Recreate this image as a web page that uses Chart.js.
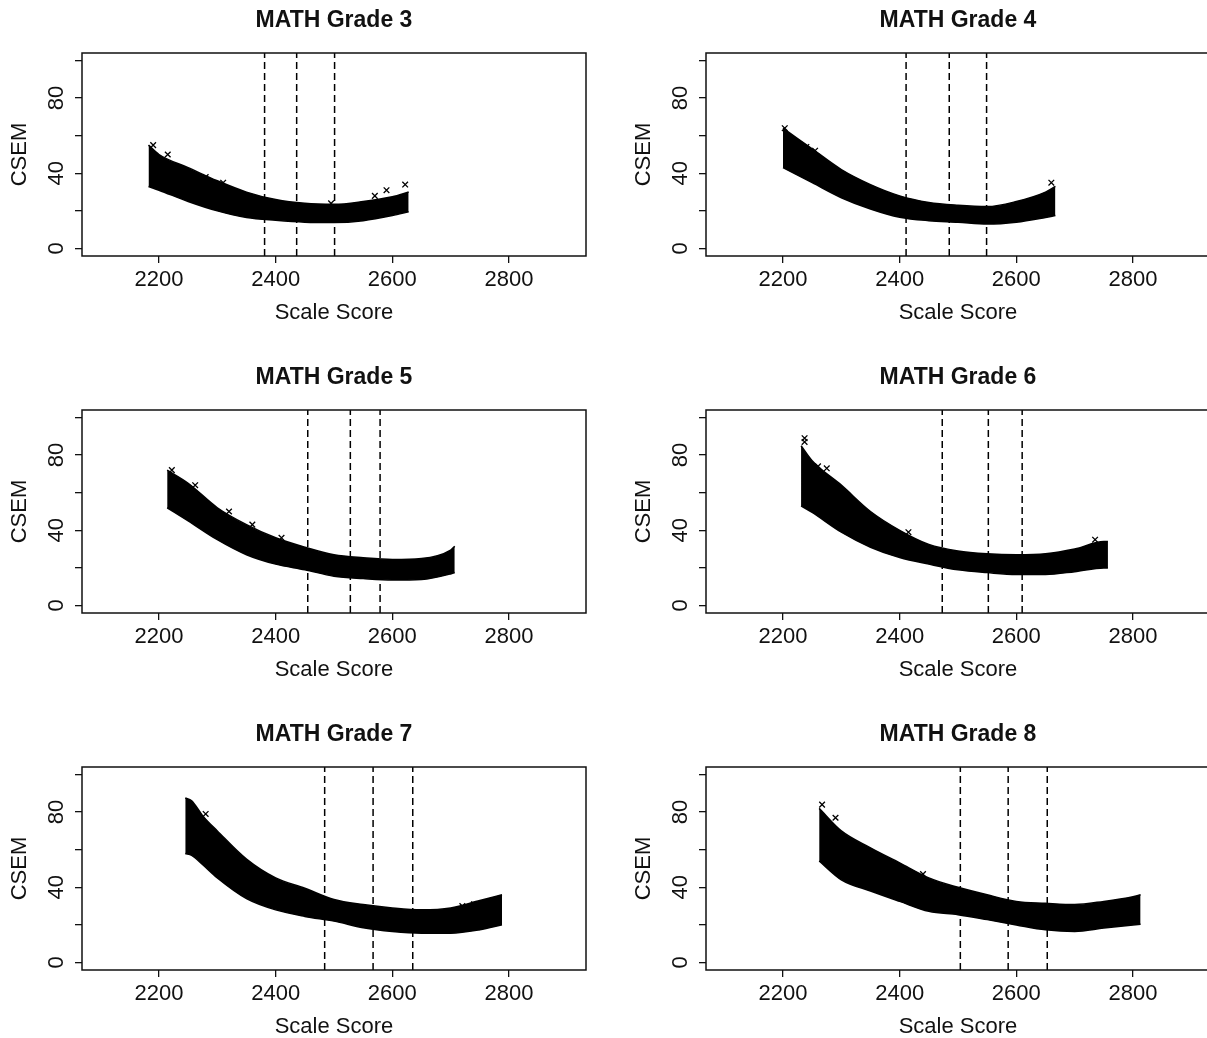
<!DOCTYPE html>
<html>
<head>
<meta charset="utf-8">
<script src="https://cdn.jsdelivr.net/npm/chart.js@4.4.0/dist/chart.umd.min.js"></script>
<style>
html,body{margin:0;padding:0;background:#fff;width:1207px;height:1038px;overflow:hidden;}
#wrap{position:relative;width:1207px;height:1038px;overflow:hidden;}
canvas{position:absolute;}
</style>
</head>
<body>
<div id="wrap"></div>
<script>
// ---------- data ----------
const xTicks = [2200, 2400, 2600, 2800];
const yTicks = [0, 20, 40, 60, 80, 100];
const yTickLabels = [0, 40, 80];
const X_MIN = 2068, X_MAX = 2932, Y_MIN = -4, Y_MAX = 104;

const panelTitles = ['MATH Grade 3','MATH Grade 4','MATH Grade 5','MATH Grade 6','MATH Grade 7','MATH Grade 8'];

// Band of CSEM values: upper and lower envelope of the point cloud
const g3Score = [2182, 2200, 2250, 2300, 2350, 2400, 2450, 2500, 2550, 2600, 2628];
const g3Upper = [55, 50, 43, 36, 30, 26, 24, 23.5, 25, 27.5, 30];
const g3Lower = [33, 31, 25, 20, 16.5, 15, 14, 13.8, 14.8, 17.5, 19.5];
const g3Cuts  = [2381, 2436, 2501];
const g3Outliers = [[2190,55],[2215,50],[2280,38],[2310,35],[2495,24],[2570,28],[2590,31],[2622,34]];

const g4Score = [2200, 2250, 2300, 2350, 2400, 2450, 2500, 2550, 2600, 2650, 2667];
const g4Upper = [64, 53, 42, 34, 28, 24.5, 23, 22.3, 25, 30, 33];
const g4Lower = [43, 35, 27, 21, 16.6, 14.8, 14, 13, 14, 16.5, 17.5];
const g4Cuts  = [2411, 2485, 2549];
const g4Outliers = [[2203,64],[2240,54],[2255,52],[2660,35]];

const g5Score = [2214, 2250, 2300, 2350, 2400, 2450, 2500, 2550, 2600, 2650, 2700, 2707];
const g5Upper = [72, 65, 52, 43, 36, 31, 27, 25.4, 24.5, 25, 29.5, 31.5];
const g5Lower = [52, 45, 35, 27, 22, 19, 15.6, 14.3, 13.5, 13.8, 16.8, 17.5];
const g5Cuts  = [2455, 2528, 2579];
const g5Outliers = [[2222,72],[2262,64],[2320,50],[2360,43],[2410,36]];

const g6Score = [2231, 2250, 2300, 2350, 2400, 2450, 2500, 2550, 2600, 2650, 2700, 2750, 2757];
const g6Upper = [85, 77, 64, 50, 40, 32.5, 29, 27.5, 27, 27.5, 30, 34, 34];
const g6Lower = [53, 49.5, 39, 31, 25.5, 22, 19, 17.5, 16.5, 16.5, 18, 20, 20];
const g6Cuts  = [2473, 2552, 2610];
const g6Outliers = [[2237,89],[2237,87],[2260,74],[2275,73],[2415,39],[2735,35]];

const g7Score = [2245, 2256, 2275, 2300, 2350, 2400, 2450, 2500, 2550, 2600, 2650, 2700, 2750, 2788];
const g7Upper = [87.5, 86, 78, 70, 55, 45, 39.5, 33.5, 30.8, 29, 28, 29, 33, 36];
const g7Lower = [58, 57, 52, 45, 34, 28, 24.5, 22, 18.5, 16.5, 15.6, 15.6, 17.4, 20];
const g7Cuts  = [2484, 2567, 2635];
const g7Outliers = [[2280,79],[2720,30],[2740,31]];

const g8Score = [2262, 2300, 2350, 2400, 2450, 2500, 2550, 2600, 2650, 2700, 2750, 2800, 2813];
const g8Upper = [82, 70, 61, 53, 45, 40, 36, 32.5, 31.5, 30.8, 32.5, 35, 36];
const g8Lower = [54, 44, 38, 32.5, 27.2, 25.4, 22.8, 20, 17.4, 16.5, 18.3, 20, 20.4];
const g8Cuts  = [2504, 2586, 2653];
const g8Outliers = [[2267,84],[2290,77],[2440,47]];

// ---------- layout ----------
const FONT = "'Liberation Sans', Arial, Helvetica, sans-serif";
const panels = [
  {title: panelTitles[0], xs: g3Score, up: g3Upper, lo: g3Lower, cuts: g3Cuts, out: g3Outliers},
  {title: panelTitles[1], xs: g4Score, up: g4Upper, lo: g4Lower, cuts: g4Cuts, out: g4Outliers},
  {title: panelTitles[2], xs: g5Score, up: g5Upper, lo: g5Lower, cuts: g5Cuts, out: g5Outliers},
  {title: panelTitles[3], xs: g6Score, up: g6Upper, lo: g6Lower, cuts: g6Cuts, out: g6Outliers},
  {title: panelTitles[4], xs: g7Score, up: g7Upper, lo: g7Lower, cuts: g7Cuts, out: g7Outliers},
  {title: panelTitles[5], xs: g8Score, up: g8Upper, lo: g8Lower, cuts: g8Cuts, out: g8Outliers}
];
const CW = 624, CH = 357;

const decorPlugin = {
  id: 'decor',
  afterDraw(chart, args, opts) {
    const {ctx, chartArea: a} = chart;
    ctx.save();
    ctx.strokeStyle = '#111';
    ctx.lineWidth = 1.5;
    ctx.strokeRect(a.left, a.top, a.right - a.left, a.bottom - a.top);
    ctx.fillStyle = '#111';
    ctx.font = 'bold 23px ' + FONT;
    ctx.textAlign = 'center';
    ctx.textBaseline = 'middle';
    ctx.fillText(opts.title, (a.left + a.right) / 2, 21);
    ctx.font = '22px ' + FONT;
    const ys = chart.scales.y;
    yTickLabels.forEach(v => {
      const py = ys.getPixelForValue(v);
      ctx.save();
      ctx.translate(56, py);
      ctx.rotate(-Math.PI / 2);
      ctx.fillText(String(v), 0, 1);
      ctx.restore();
    });
    ctx.restore();
  }
};

const wrap = document.getElementById('wrap');
panels.forEach((p, i) => {
  const col = i % 2, row = Math.floor(i / 2);
  const cv = document.createElement('canvas');
  cv.width = CW; cv.height = CH;
  cv.style.left = (col * 624) + 'px';
  cv.style.top = (row * 357) + 'px';
  wrap.appendChild(cv);

  const datasets = [
    {
      data: p.xs.map((x, k) => ({x: x, y: p.up[k]})),
      borderColor: '#000', backgroundColor: '#000', borderWidth: 1.5,
      pointRadius: 0, fill: false, cubicInterpolationMode: 'monotone'
    },
    {
      data: p.xs.map((x, k) => ({x: x, y: p.lo[k]})),
      borderColor: '#000', backgroundColor: '#000', borderWidth: 1.5,
      pointRadius: 0, fill: '-1', cubicInterpolationMode: 'monotone'
    }
  ];
  p.cuts.forEach(c => {
    datasets.push({
      data: [{x: c, y: Y_MIN}, {x: c, y: Y_MAX}],
      borderColor: '#000', borderWidth: 1.5, borderDash: [7, 4],
      pointRadius: 0, fill: false
    });
  });
  datasets.push({
    type: 'scatter',
    data: p.out.map(o => ({x: o[0], y: o[1]})),
    pointStyle: 'crossRot', pointRadius: 4, borderColor: '#000', borderWidth: 1.3,
    showLine: false
  });

  new Chart(cv.getContext('2d'), {
    type: 'line',
    data: {datasets},
    options: {
      animation: false, responsive: false, events: [],
      layout: {padding: {left: 0, right: 38, top: 53, bottom: 0}},
      plugins: {legend: {display: false}, tooltip: {enabled: false}, title: {display: false},
                decor: {title: p.title}},
      scales: {
        x: {
          type: 'linear', min: X_MIN, max: X_MAX,
          afterBuildTicks: s => { s.ticks = xTicks.map(v => ({value: v})); },
          afterFit: s => { s.height = 101; },
          border: {display: false},
          grid: {drawOnChartArea: false, drawTicks: true, tickLength: 7, tickColor: '#111', color: '#111', lineWidth: 1.3},
          ticks: {font: {size: 22, family: FONT}, color: '#111', padding: 4, maxRotation: 0, minRotation: 0, autoSkip: false,
                  callback: v => String(v)},
          title: {display: true, text: 'Scale Score', font: {size: 22, family: FONT}, color: '#111', padding: {top: 0, bottom: 31}}
        },
        y: {
          type: 'linear', min: Y_MIN, max: Y_MAX,
          afterBuildTicks: s => { s.ticks = yTicks.map(v => ({value: v})); },
          afterFit: s => { s.width = 82; },
          border: {display: false},
          grid: {drawOnChartArea: false, drawTicks: true, tickLength: 7, tickColor: '#111', color: '#111', lineWidth: 1.3},
          ticks: {display: false},
          title: {display: true, text: 'CSEM', font: {size: 22, family: FONT}, color: '#111', padding: {top: 7, bottom: 0}}
        }
      }
    },
    plugins: [decorPlugin]
  });
});
</script>
</body>
</html>
